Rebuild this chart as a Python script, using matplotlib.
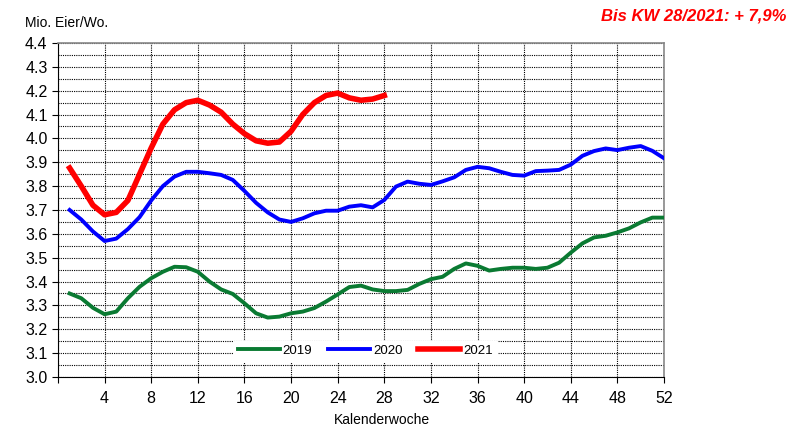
import matplotlib.pyplot as plt
import numpy as np

plt.rcParams['font.family'] = ['Liberation Sans', 'DejaVu Sans']

# Daten (Mio. Eier je Woche)
wochen_2019 = list(range(1, 53))
werte_2019 = [3.35, 3.33, 3.29, 3.263, 3.274, 3.33, 3.378, 3.414, 3.441, 3.462,
              3.46, 3.441, 3.40, 3.367, 3.348, 3.309, 3.267, 3.249, 3.253, 3.267,
              3.274, 3.289, 3.316, 3.346, 3.377, 3.383, 3.367, 3.36, 3.36, 3.365,
              3.39, 3.41, 3.42, 3.453, 3.476, 3.466, 3.446, 3.453, 3.458, 3.458,
              3.453, 3.458, 3.479, 3.521, 3.56, 3.585, 3.592, 3.606, 3.623, 3.648,
              3.668, 3.668]

wochen_2020 = list(range(1, 53))
werte_2020 = [3.70, 3.66, 3.61, 3.57, 3.58, 3.62, 3.67, 3.74, 3.80, 3.84,
              3.86, 3.86, 3.854, 3.847, 3.826, 3.78, 3.73, 3.69, 3.66, 3.65,
              3.665, 3.686, 3.697, 3.697, 3.714, 3.72, 3.711, 3.742, 3.798, 3.819,
              3.81, 3.805, 3.82, 3.837, 3.868, 3.881, 3.875, 3.86, 3.847, 3.844,
              3.863, 3.865, 3.868, 3.89, 3.927, 3.947, 3.958, 3.951, 3.961, 3.968,
              3.948, 3.917]

wochen_2021 = list(range(1, 29))
werte_2021 = [3.876, 3.80, 3.72, 3.68, 3.69, 3.74, 3.85, 3.96, 4.06, 4.12,
              4.15, 4.16, 4.14, 4.11, 4.06, 4.02, 3.99, 3.98, 3.985, 4.03,
              4.10, 4.15, 4.18, 4.19, 4.17, 4.16, 4.165, 4.18]

x_ticks = list(range(0, 53, 4))
x_labels = [''] + [str(t) for t in x_ticks[1:]]
y_ticks = np.round(np.arange(3.0, 4.41, 0.1), 1)

fig = plt.figure(figsize=(8.12, 4.30), dpi=100)
ax = fig.add_axes([0.0714, 0.1233, 0.7463, 0.7767])

ax.plot(wochen_2019, werte_2019, color='#0a7a32', linewidth=2.8, label='2019', zorder=3)
ax.plot(wochen_2020, werte_2020, color='#0000ff', linewidth=2.8, label='2020', zorder=3)
ax.plot(wochen_2021, werte_2021, color='#ff0000', linewidth=4.0, label='2021', zorder=4)

ax.set_xlim(0, 52)
ax.set_ylim(3.0, 4.4)
ax.set_xticks(x_ticks)
ax.set_xticklabels(x_labels, fontsize=11.5)
ax.set_yticks(y_ticks)
ax.set_yticklabels([f'{v:.1f}' for v in y_ticks], fontsize=11.5)
ax.set_yticks(np.arange(3.05, 4.4, 0.1), minor=True)
ax.tick_params(axis='both', which='major', direction='out', length=4, width=0.8)
ax.tick_params(axis='x', which='major', pad=6)
ax.tick_params(axis='y', which='minor', length=0)

# Gitter
ax.grid(True, which='major', axis='both', color='black', linestyle=(0, (1, 1)), linewidth=0.8)
ax.grid(True, which='minor', axis='y', color='black', linestyle=(0, (1, 1)), linewidth=0.8)
ax.set_axisbelow(True)

for s in ['top', 'right']:
    ax.spines[s].set_color('#888888')
    ax.spines[s].set_linewidth(1.2)
for s in ['left', 'bottom']:
    ax.spines[s].set_color('black')

fig.text(0.47, 0.023, 'Kalenderwoche', fontsize=10, ha='center', va='center')
fig.text(0.031, 0.947, 'Mio. Eier/Wo.', fontsize=10, ha='left', va='center')
fig.text(0.969, 0.962, 'Bis KW 28/2021: + 7,9%', fontsize=12, color='#ff0000',
         fontweight='bold', fontstyle='italic', ha='right', va='center')

leg = ax.legend(loc='center', bbox_to_anchor=(0.507, 0.078), ncol=3, frameon=True,
                fontsize=9.5, handlelength=3.2, columnspacing=1.2, handletextpad=0.2,
                borderpad=0.3, fancybox=False)
leg.get_frame().set_edgecolor('white')
leg.get_frame().set_facecolor('white')
leg.get_frame().set_alpha(1.0)

fig.savefig('out.png', dpi=100)
